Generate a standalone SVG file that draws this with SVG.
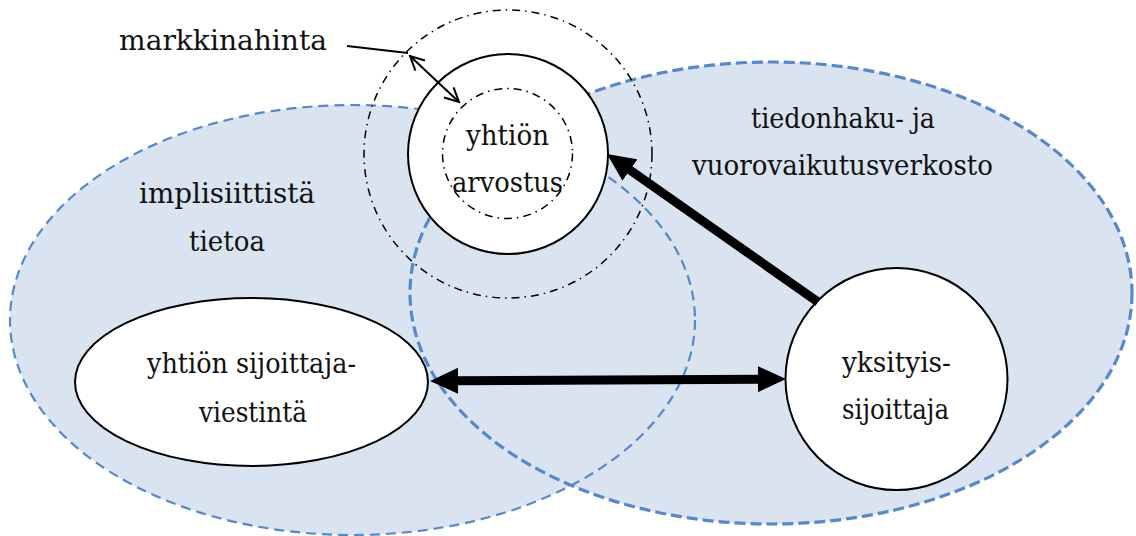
<svg xmlns="http://www.w3.org/2000/svg" width="1136" height="536" viewBox="0 0 1136 536">
<style>
.bgfill{fill:#dae3f0;stroke:none}
.bgl{fill:none;stroke:#5588cc;stroke-width:2.2;stroke-dasharray:10 6}
.bgr{fill:none;stroke:#5588cc;stroke-width:3.2;stroke-dasharray:11 5}
.dd{fill:none;stroke:#000;stroke-width:1.5;stroke-dasharray:8 5 1.5 5}
.node{fill:#fff;stroke:#000;stroke-width:2}
.t{font-family:"DejaVu Serif","Liberation Serif",serif;font-size:28px;fill:#111;text-anchor:middle}
.thick{fill:none;stroke:#000;stroke-width:9}
.thin{fill:none;stroke:#000;stroke-width:2}
</style>
<defs>
<marker id="big" markerUnits="userSpaceOnUse" markerWidth="28" markerHeight="26" viewBox="0 0 28 26" refX="2" refY="13" orient="auto-start-reverse">
<path d="M0,0 L28,13 L0,26 Z" fill="#000"/>
</marker>
<marker id="open" markerUnits="userSpaceOnUse" markerWidth="18" markerHeight="18" viewBox="-2 -2 18 18" refX="14" refY="7" orient="auto-start-reverse">
<path d="M0,0 L14,7 L0,14" fill="none" stroke="#000" stroke-width="2"/>
</marker>
</defs>

<g id="areas">
<ellipse class="bgfill" cx="352.5" cy="320" rx="342.5" ry="215"/>
<ellipse class="bgfill" cx="771" cy="293" rx="361" ry="231"/>
<ellipse class="bgl" cx="352.5" cy="320" rx="342.5" ry="215"/>
<ellipse class="bgr" cx="771" cy="293" rx="361" ry="231"/>
<text class="t" x="227" y="203" textLength="176" lengthAdjust="spacingAndGlyphs">implisiittistä</text>
<text class="t" x="227" y="251" textLength="76" lengthAdjust="spacingAndGlyphs">tietoa</text>
<text class="t" x="843" y="128" textLength="184" lengthAdjust="spacingAndGlyphs">tiedonhaku- ja</text>
<text class="t" x="842.5" y="175" textLength="301" lengthAdjust="spacingAndGlyphs">vuorovaikutusverkosto</text>
</g>

<g id="market">
<circle class="dd" cx="508" cy="154" r="144"/>
<text class="t" x="223" y="50" textLength="208" lengthAdjust="spacingAndGlyphs">markkinahinta</text>
</g>

<g id="valuation">
<circle class="node" cx="508" cy="154" r="100"/>
<circle class="dd" cx="507.5" cy="153.5" r="65"/>
<text class="t" x="507.5" y="145" textLength="83" lengthAdjust="spacingAndGlyphs">yhtiön</text>
<text class="t" x="507.5" y="192" textLength="111" lengthAdjust="spacingAndGlyphs">arvostus</text>
</g>

<g id="communication">
<ellipse class="node" cx="251.5" cy="382" rx="176.5" ry="84"/>
<text class="t" x="251.5" y="373" textLength="209" lengthAdjust="spacingAndGlyphs">yhtiön sijoittaja-</text>
<text class="t" x="253" y="422" textLength="108" lengthAdjust="spacingAndGlyphs">viestintä</text>
</g>

<g id="investor">
<circle class="node" cx="896.5" cy="379" r="111"/>
<text class="t" x="896.5" y="372" textLength="109" lengthAdjust="spacingAndGlyphs">yksityis-</text>
<text class="t" x="895.5" y="419" textLength="107" lengthAdjust="spacingAndGlyphs">sijoittaja</text>
</g>

<g id="connectors">
<line class="thick" x1="456" y1="380.85" x2="760" y2="379.15" marker-start="url(#big)" marker-end="url(#big)"/>
<line class="thick" x1="818" y1="302" x2="628.3" y2="168.9" marker-end="url(#big)"/>
<line class="thin" x1="410" y1="56" x2="459" y2="102" marker-start="url(#open)" marker-end="url(#open)"/>
<line class="thin" x1="347" y1="46" x2="408" y2="53"/>
</g>
</svg>
